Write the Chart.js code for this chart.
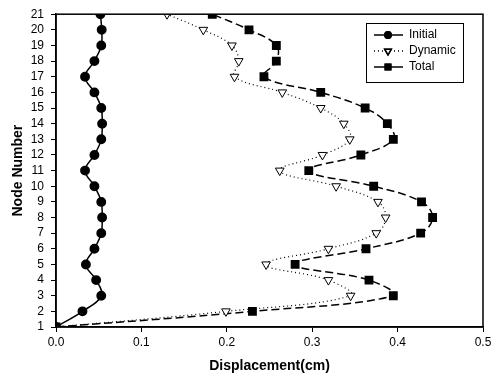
<!DOCTYPE html>
<html lang="en">
<head>
    <meta charset="UTF-8">
    <title>Displacement by Node</title>
    <script src="https://cdn.jsdelivr.net/npm/chart.js"></script>
    <style>
        body { margin: 0; background: #fff; }
        #wrap { width: 497px; height: 378px; }
    </style>
</head>
<body>
    <div id="wrap">
        <canvas id="disp-chart" width="497" height="378"></canvas>
    </div>

    <script>
        // node numbers 1..21 (y axis)
        const nodes = [1, 2, 3, 4, 5, 6, 7, 8, 9, 10, 11, 12, 13, 14, 15, 16, 17, 18, 19, 20, 21];

        // displacement (cm) per node
        const initial = [0, 0.031, 0.053, 0.047, 0.035, 0.045, 0.053, 0.054, 0.053, 0.045, 0.034,
            0.045, 0.053, 0.054, 0.053, 0.045, 0.034, 0.045, 0.053, 0.0535, 0.052];
        const dynamic = [0, 0.199, 0.345, 0.319, 0.246, 0.319, 0.375, 0.386, 0.377, 0.328, 0.262,
            0.312, 0.344, 0.337, 0.310, 0.265, 0.209, 0.214, 0.206, 0.1725, 0.130];
        const total = [0, 0.230, 0.395, 0.3665, 0.280, 0.363, 0.427, 0.441, 0.428, 0.372, 0.296,
            0.357, 0.395, 0.388, 0.362, 0.310, 0.2435, 0.258, 0.258, 0.226, 0.183];

        const xTicks = [0, 0.1, 0.2, 0.3, 0.4, 0.5];

        const toPoints = vals => vals.map((v, i) => ({ x: v, y: nodes[i] }));
        const font = { family: 'Liberation Sans, Arial, sans-serif', size: 12 };

        // frame + legend box drawn inside the plot, like the original
        const boxLegend = {
            id: 'boxLegend',
            afterDraw(chart) {
                const ctx = chart.ctx;
                const area = chart.chartArea;
                ctx.save();
                ctx.strokeStyle = '#000';
                ctx.lineWidth = 1.5;
                ctx.strokeRect(area.left, area.top, area.right - area.left, area.bottom - area.top);

                const x0 = 366, y0 = 23, w = 97, h = 59;
                ctx.lineWidth = 1;
                ctx.fillStyle = '#fff';
                ctx.fillRect(x0, y0, w, h);
                ctx.strokeRect(x0 + 0.5, y0 + 0.5, w, h);

                chart.data.datasets.forEach((ds, i) => {
                    const yy = y0 + 12 + i * 16;
                    ctx.beginPath();
                    ctx.setLineDash(i === 1 ? ds.borderDash : []);
                    ctx.strokeStyle = '#000';
                    ctx.lineWidth = 1.5;
                    ctx.moveTo(x0 + 8, yy);
                    ctx.lineTo(x0 + 37, yy);
                    ctx.stroke();
                    ctx.setLineDash([]);
                    Chart.helpers.drawPoint(ctx, {
                        pointStyle: ds.pointStyle,
                        radius: ds.pointRadius * 0.75,
                        rotation: ds.pointRotation || 0,
                        borderWidth: 1
                    }, x0 + 22, yy);
                    ctx.fillStyle = ds.pointBackgroundColor;
                    ctx.fill();
                    ctx.strokeStyle = '#000';
                    ctx.stroke();

                    ctx.fillStyle = '#000';
                    ctx.font = '12px ' + font.family;
                    ctx.textBaseline = 'middle';
                    ctx.fillText(ds.label, x0 + 43, yy);
                });
                ctx.restore();
            }
        };

        const ctx = document.getElementById('disp-chart').getContext('2d');
        new Chart(ctx, {
            type: 'scatter',
            data: {
                datasets: [
                    {
                        label: 'Initial',
                        data: toPoints(initial),
                        showLine: true,
                        tension: 0.4,
                        borderColor: '#000',
                        borderWidth: 1.5,
                        pointStyle: 'circle',
                        pointRadius: 4.2,
                        pointBackgroundColor: '#000',
                        pointBorderColor: '#000'
                    },
                    {
                        label: 'Dynamic',
                        data: toPoints(dynamic),
                        showLine: true,
                        tension: 0.4,
                        borderColor: '#000',
                        borderWidth: 1.2,
                        borderDash: [1, 3],
                        pointStyle: 'triangle',
                        pointRotation: 180,
                        pointRadius: 5,
                        pointBackgroundColor: '#fff',
                        pointBorderColor: '#000',
                        pointBorderWidth: 1
                    },
                    {
                        label: 'Total',
                        data: toPoints(total),
                        showLine: true,
                        tension: 0.4,
                        borderColor: '#000',
                        borderWidth: 1.5,
                        borderDash: [8, 4],
                        pointStyle: 'rect',
                        pointRadius: 5.2,
                        pointBackgroundColor: '#000',
                        pointBorderColor: '#000'
                    }
                ]
            },
            options: {
                responsive: false,
                animation: false,
                layout: { padding: { left: 0, right: 14, top: 14, bottom: 0 } },
                plugins: {
                    legend: { display: false },
                    tooltip: { enabled: false }
                },
                scales: {
                    x: {
                        type: 'linear',
                        min: 0,
                        max: 0.5,
                        afterBuildTicks: scale => { scale.ticks = xTicks.map(v => ({ value: v })); },
                        afterFit: scale => { scale.height = 51; },
                        ticks: {
                            color: '#000',
                            font: font,
                            padding: 3,
                            callback: v => v.toFixed(1)
                        },
                        grid: { drawOnChartArea: false, tickLength: 5, color: '#000' },
                        border: { color: '#000', width: 1.5 },
                        title: {
                            display: true,
                            text: 'Displacement(cm)',
                            color: '#000',
                            font: { family: font.family, size: 14, weight: 'bold' },
                            padding: { top: 0, bottom: 3 }
                        }
                    },
                    y: {
                        type: 'linear',
                        min: 1,
                        max: 21,
                        afterBuildTicks: scale => { scale.ticks = nodes.map(v => ({ value: v })); },
                        afterFit: scale => { scale.width = 56; },
                        ticks: {
                            color: '#000',
                            font: font,
                            padding: 7,
                            autoSkip: false
                        },
                        grid: { drawOnChartArea: false, tickLength: 5, color: '#000' },
                        border: { color: '#000', width: 1.5 },
                        title: {
                            display: true,
                            text: 'Node Number',
                            color: '#000',
                            font: { family: font.family, size: 14, weight: 'bold' },
                            padding: { top: 10, bottom: 0 }
                        }
                    }
                }
            },
            plugins: [boxLegend]
        });
    </script>
</body>
</html>
